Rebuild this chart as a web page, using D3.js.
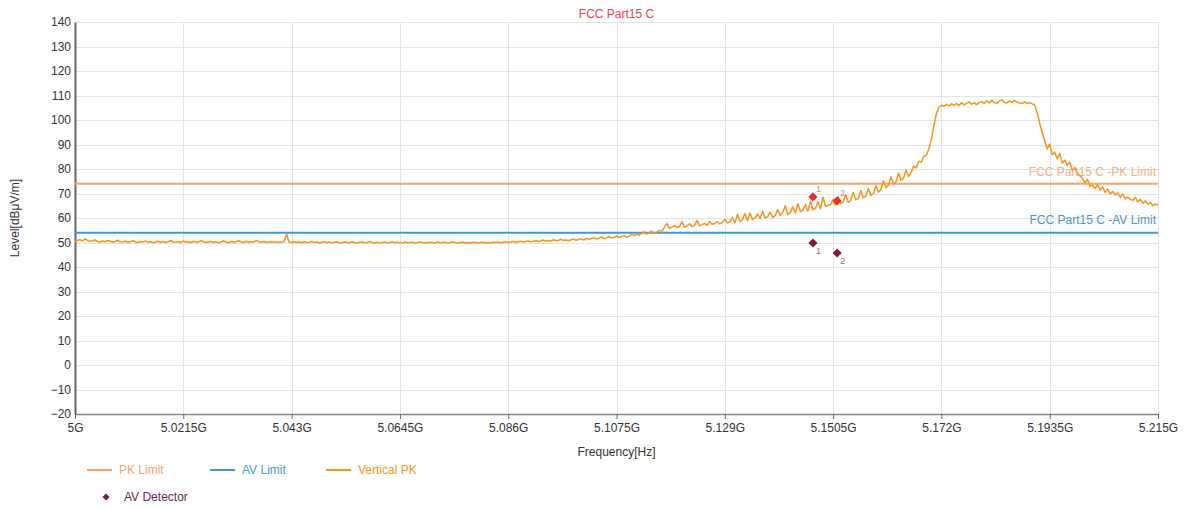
<!DOCTYPE html>
<html>
<head>
<meta charset="utf-8">
<script src="https://cdn.jsdelivr.net/npm/d3@7/dist/d3.min.js"></script>
<style>
  html, body { margin: 0; padding: 0; background: #fff; }
  svg { display: block; font-family: "Liberation Sans", Arial, sans-serif; }
</style>
</head>
<body>
<svg id="chart" width="1189" height="509"></svg>
<script>
// ---------------- DATA ----------------
const chartTitle = "FCC Part15 C";
const xTickValues = [5.0, 5.0215, 5.043, 5.0645, 5.086, 5.1075, 5.129, 5.1505, 5.172, 5.1935, 5.215];
const xTickLabels = ["5G", "5.0215G", "5.043G", "5.0645G", "5.086G", "5.1075G", "5.129G", "5.1505G", "5.172G", "5.1935G", "5.215G"];
const yTickValues = [-20, -10, 0, 10, 20, 30, 40, 50, 60, 70, 80, 90, 100, 110, 120, 130, 140];

const pkLimit = 74;   // dBuV/m
const avLimit = 54;   // dBuV/m

// Sweep: start 5.000 GHz, 0.0005 GHz per point (431 points)
const sweepStart = 5.0;
const sweepStep = 0.0005;
const verticalPK = [
  50.4,50.8,51.2,50.6,51.5,50.9,50.5,50.7,51.0,50.4,50.2,50.6,50.3,50.8,50.5,50.1,50.4,50.9,50.3,50.2,
  50.5,50.1,50.3,50.7,50.2,50.0,50.4,50.2,50.6,50.1,50.3,49.9,50.2,50.5,50.1,50.4,50.0,50.3,50.7,50.2,
  50.1,50.4,50.0,50.6,50.2,50.3,50.0,50.5,50.1,50.2,50.8,50.3,50.0,50.2,50.4,50.1,50.3,49.9,50.2,50.6,
  50.2,50.0,50.4,50.1,50.3,50.7,50.2,50.0,50.5,50.1,50.3,50.2,50.9,50.3,50.1,50.4,50.0,50.2,50.3,50.1,
  50.3,50.0,50.2,50.4,53.4,50.2,50.0,50.3,50.1,50.2,49.9,50.3,50.0,50.1,50.4,50.0,50.2,49.8,50.1,50.3,
  50.0,50.2,49.9,50.1,50.3,49.8,50.0,50.2,50.1,49.9,50.3,50.0,49.8,50.1,50.2,49.9,50.0,50.4,50.0,49.8,
  50.1,49.9,50.0,50.2,49.8,50.0,50.3,49.9,50.1,50.0,49.8,50.2,49.9,50.0,50.1,49.8,50.0,50.2,49.9,50.0,
  49.9,50.1,50.0,49.8,50.2,49.9,50.0,50.1,49.8,50.0,50.3,49.9,49.8,50.0,50.1,49.9,50.0,49.8,50.1,50.0,
  49.8,50.0,50.1,49.9,50.0,49.8,50.1,50.0,50.2,49.9,50.1,50.3,50.0,50.2,50.4,50.1,50.3,50.5,50.2,50.4,
  50.6,50.3,50.5,50.8,50.4,50.7,51.0,50.5,50.8,50.6,51.2,50.7,50.9,51.3,50.8,51.0,50.7,51.1,51.4,50.9,
  51.2,51.5,51.0,51.7,51.3,51.6,52.0,51.4,51.8,52.3,51.6,51.9,52.5,51.8,52.1,52.6,52.0,52.4,52.9,52.2,
  52.6,53.2,52.8,53.5,53.0,53.8,54.4,53.4,54.0,54.6,53.8,54.2,55.0,54.3,56.2,57.8,55.8,56.3,57.0,56.0,
  56.4,58.5,56.2,56.8,57.6,56.5,57.0,59.0,56.8,57.3,57.8,57.0,58.6,57.4,57.8,58.4,57.6,58.1,59.5,58.0,
  58.4,60.2,58.0,61.5,58.6,59.2,61.8,58.9,62.0,59.4,60.0,61.6,59.8,62.8,60.0,60.6,62.4,60.2,61.0,63.4,
  61.0,62.4,65.0,61.4,62.2,64.6,61.9,65.8,62.6,63.2,65.4,62.8,66.8,63.4,64.0,66.6,63.8,68.6,64.8,65.2,
  65.4,67.6,65.2,68.6,65.8,66.6,69.5,66.4,67.2,70.4,67.4,68.0,71.2,68.2,69.0,72.0,69.2,70.0,73.2,70.6,
  71.6,75.2,72.4,73.4,76.8,73.8,74.8,78.4,75.4,76.4,79.6,77.0,78.6,81.2,80.4,83.2,82.8,85.2,85.6,88.2,
  92.0,97.5,102.5,105.2,106.0,105.6,106.4,105.8,106.6,106.0,106.7,105.9,107.0,106.2,106.8,107.4,106.4,107.1,106.3,107.2,
  107.5,106.7,107.8,107.0,108.0,107.1,106.8,107.7,108.2,107.2,106.9,107.8,107.1,108.0,107.3,106.9,106.7,107.4,106.8,107.1,
  106.6,106.2,103.0,98.8,95.0,91.5,88.2,90.2,85.8,86.8,84.2,86.4,82.4,83.6,81.6,82.8,79.4,80.6,78.2,77.2,
  76.2,74.2,75.8,73.0,73.4,72.0,73.6,71.4,72.6,70.4,71.8,69.8,70.8,69.4,70.2,68.4,69.8,67.8,68.6,67.6,
  67.2,68.4,66.6,67.6,66.0,67.0,65.6,66.4,65.0,65.8,65.2
];

// Final measurement markers
const markerIds = ["1", "2"];
const markerFreqs = [5.1465, 5.1513];     // GHz
const peakLevels = [68.6, 67.0];          // dBuV/m (PK detector)
const avLevels = [49.8, 45.7];            // dBuV/m (AV detector)

// ---------------- CHART ----------------
const svg = d3.select("#chart");
const W = 1189, H = 509;
const M = { left: 75, right: 31, top: 22, bottom: 95 };

const x = d3.scaleLinear().domain([5.0, 5.215]).range([M.left, W - M.right]);
const y = d3.scaleLinear().domain([-20, 140]).range([H - M.bottom, M.top]);

const COL = {
  grid: "#e3e3e3",
  pk: "#f4a46c",
  av: "#3e9ad6",
  trace: "#f7931e",
  peak: "#e8302a",
  avDet: "#7d1d3f",
  text: "#333",
  title: "#e8424d"
};

// Grid
svg.append("g").selectAll("line.h").data(yTickValues).join("line")
  .attr("x1", x(5.0)).attr("x2", x(5.215))
  .attr("y1", d => Math.round(y(d)) + 0.5).attr("y2", d => Math.round(y(d)) + 0.5)
  .attr("stroke", COL.grid).attr("stroke-width", 1);
svg.append("g").selectAll("line.v").data(xTickValues.slice(1)).join("line")
  .attr("x1", d => Math.round(x(d)) + 0.5).attr("x2", d => Math.round(x(d)) + 0.5)
  .attr("y1", y(140)).attr("y2", y(-20))
  .attr("stroke", COL.grid).attr("stroke-width", 1);

// X axis
const xAxis = d3.axisBottom(x)
  .tickValues(xTickValues)
  .tickFormat((d, i) => xTickLabels[i])
  .tickSize(5).tickSizeOuter(0).tickPadding(4);
const gx = svg.append("g").attr("transform", `translate(0,${y(-20)})`).call(xAxis);
gx.select(".domain").attr("stroke", "#888").attr("stroke-width", 1.5);
gx.selectAll(".tick line").attr("stroke", "#666");
gx.selectAll(".tick text").attr("fill", COL.text).attr("font-size", 12);

// Y axis
const yAxis = d3.axisLeft(y).tickValues(yTickValues).tickSize(0).tickPadding(4);
const gy = svg.append("g").attr("transform", `translate(${M.left},0)`).call(yAxis);
gy.select(".domain").attr("stroke", "#666").attr("stroke-width", 2);
gy.selectAll(".tick text").attr("fill", COL.text).attr("font-size", 12);
gx.selectAll("text").attr("font-family", "Liberation Sans, Arial, sans-serif");
gy.selectAll("text").attr("font-family", "Liberation Sans, Arial, sans-serif");

// Axis titles
svg.append("text").attr("x", (x(5.0) + x(5.215)) / 2).attr("y", 456)
  .attr("text-anchor", "middle").attr("font-size", 12).attr("fill", COL.text)
  .text("Frequency[Hz]");
svg.append("text")
  .attr("transform", `translate(19,${(y(140) + y(-20)) / 2}) rotate(-90)`)
  .attr("text-anchor", "middle").attr("font-size", 12).attr("fill", COL.text)
  .text("Level[dBμV/m]");

// Title
svg.append("text").attr("x", (x(5.0) + x(5.215)) / 2).attr("y", 18)
  .attr("text-anchor", "middle").attr("font-size", 12).attr("fill", COL.title)
  .text(chartTitle);

// Limit lines
svg.append("line").attr("x1", x(5.0)).attr("x2", x(5.215))
  .attr("y1", y(pkLimit)).attr("y2", y(pkLimit))
  .attr("stroke", COL.pk).attr("stroke-width", 2);
svg.append("line").attr("x1", x(5.0)).attr("x2", x(5.215))
  .attr("y1", y(avLimit)).attr("y2", y(avLimit))
  .attr("stroke", COL.av).attr("stroke-width", 2);

// Trace
const traceData = verticalPK.map((v, i) => [sweepStart + i * sweepStep, v]);
const line = d3.line().x(d => x(d[0])).y(d => y(d[1]));
svg.append("path").datum(traceData)
  .attr("d", line).attr("fill", "none")
  .attr("stroke", COL.trace).attr("stroke-width", 1.5).attr("stroke-linejoin", "round");

// Limit labels
svg.append("text").attr("x", x(5.215) - 2).attr("y", y(pkLimit) - 8)
  .attr("text-anchor", "end").attr("font-size", 12).attr("fill", COL.pk).attr("opacity", 0.85)
  .text("FCC Part15 C -PK Limit");
svg.append("text").attr("x", x(5.215) - 2).attr("y", y(avLimit) - 9)
  .attr("text-anchor", "end").attr("font-size", 12).attr("fill", "#4f95c8")
  .text("FCC Part15 C -AV Limit");

// Markers (diamond = square rotated 45°)
const diamond = d3.symbol().type(d3.symbolSquare).size(42);
const mk = svg.append("g");
markerFreqs.forEach((f, i) => {
  mk.append("path").attr("d", diamond)
    .attr("transform", `translate(${x(f)},${y(peakLevels[i])}) rotate(45)`)
    .attr("fill", COL.peak);
  mk.append("text").attr("x", x(f) + 3).attr("y", y(peakLevels[i]) - 5)
    .attr("font-size", 9).attr("fill", "#999").text(markerIds[i]);
  mk.append("path").attr("d", diamond)
    .attr("transform", `translate(${x(f)},${y(avLevels[i])}) rotate(45)`)
    .attr("fill", COL.avDet);
  mk.append("text").attr("x", x(f) + 3).attr("y", y(avLevels[i]) + 11)
    .attr("font-size", 9).attr("fill", "#777").text(markerIds[i]);
});

// Legend
const legend = [
  { name: "PK Limit", color: COL.pk, x: 87, y: 470, type: "line" },
  { name: "AV Limit", color: COL.av, x: 210, y: 470, type: "line" },
  { name: "Vertical PK", color: COL.trace, x: 326, y: 470, type: "line" },
  { name: "AV Detector", color: COL.avDet, x: 98, y: 497, type: "marker" }
];
const lg = svg.append("g");
legend.forEach(l => {
  if (l.type === "line") {
    lg.append("line").attr("x1", l.x).attr("x2", l.x + 25)
      .attr("y1", l.y).attr("y2", l.y).attr("stroke", l.color).attr("stroke-width", 2);
    lg.append("text").attr("x", l.x + 32).attr("y", l.y + 4)
      .attr("font-size", 12).attr("fill", l.color).text(l.name);
  } else {
    lg.append("path").attr("d", d3.symbol().type(d3.symbolSquare).size(26))
      .attr("transform", `translate(${l.x + 8},${l.y}) rotate(45)`).attr("fill", l.color);
    lg.append("text").attr("x", l.x + 26).attr("y", l.y + 4)
      .attr("font-size", 12).attr("fill", "#6b2a55").text(l.name);
  }
});
</script>
</body>
</html>
